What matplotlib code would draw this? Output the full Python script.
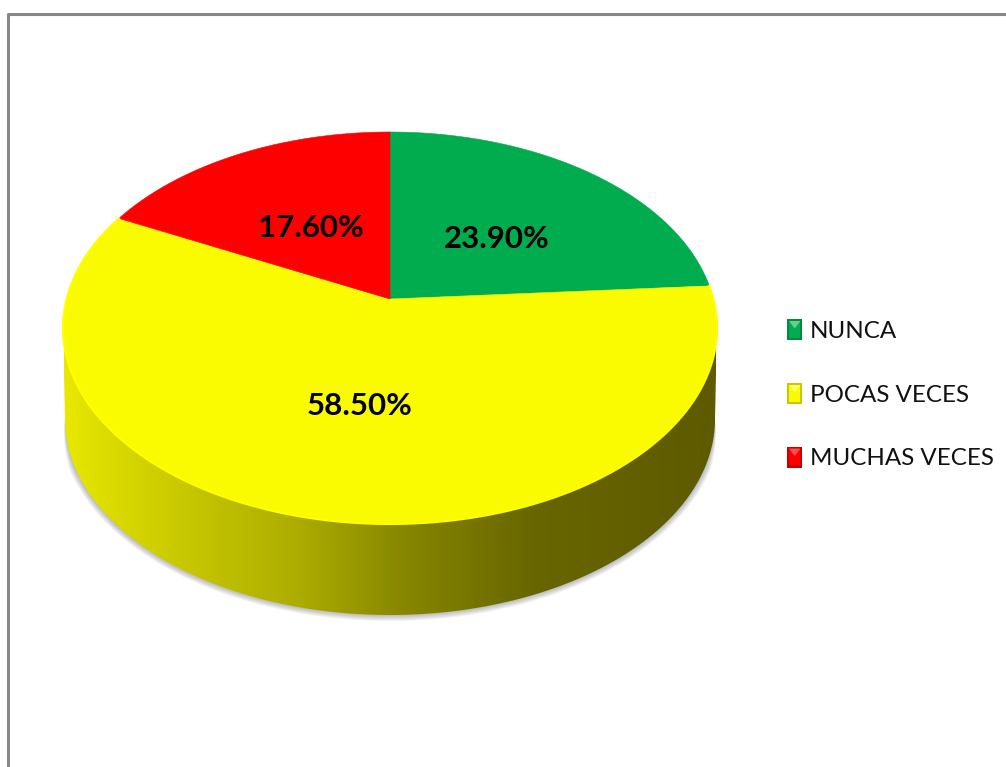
# -*- coding: UTF-8 -*-
import matplotlib
matplotlib.use('Agg')
import matplotlib.pyplot as plt
from matplotlib.colors import LinearSegmentedColormap
from matplotlib.patches import Polygon, Rectangle
import numpy as np

categories = ['NUNCA', 'POCAS VECES', 'MUCHAS VECES']
values = [23.9, 58.5, 17.6]
value_labels = ['23.90%', '58.50%', '17.60%']
colors = ['#00AC4E', '#FAFA00', '#FF0000']

plt.rcParams['font.family'] = ['Lato', 'DejaVu Sans']

# pie seen in perspective, all in pixels of the image
cx, cy = 390, 299
sx, sy, k = 323.4, 191.7, 0.148
depth = 91


def rim(a):
    w = 1 + k * np.cos(a)
    return cx + sx * np.sin(a) / w, cy - sy * np.cos(a) / w


def lower_edge(t, grow=0.0):
    return (390 + (325 + grow) * np.cos(t),
            328 + depth + (196 + grow) * np.sin(t))


fig = plt.figure(figsize=(10.06, 7.67), dpi=100)
ax = fig.add_axes([0, 0, 1, 1])
ax.set_xlim(0, 1006)
ax.set_ylim(767, 0)
ax.axis('off')

# frame
ax.plot([8.5, 8.5, 1006], [767, 13.5, 13.5], color='#888888', lw=2.2, solid_capstyle='butt')

t = np.linspace(np.pi, 0, 361)

# soft shadow of the side, fades out towards the top of the side
for g in range(1, 7):
    xs, ys = lower_edge(t, grow=g * np.clip(np.sin(t) * 4, 0, 1))
    ax.add_patch(Polygon(np.c_[xs, ys], closed=True, fc='#555555', ec='none',
                         alpha=0.07, zorder=1))

# side with gradient
xb, yb = lower_edge(np.linspace(0, np.pi, 361))
side_pts = np.r_[np.c_[xb, yb], [[63, 328]], [[390, 132]], [[717, 328]]]
side = Polygon(side_pts, closed=True, fc='none', ec='none', zorder=2)
ax.add_patch(side)
stops = [(0.0, (232/255, 232/255, 0)), (0.13, (208/255, 208/255, 0)),
         (0.36, (172/255, 172/255, 0)), (0.52, (135/255, 135/255, 0)),
         (0.72, (104/255, 102/255, 0)), (1.0, (94/255, 90/255, 0))]
cmap = LinearSegmentedColormap.from_list('side', stops)
grad = ax.imshow(np.linspace(0, 1, 256)[None, :], extent=(64, 716, 615, 132), cmap=cmap,
                 aspect='auto', zorder=2, interpolation='bilinear')
grad.set_clip_path(side)
ax.set_xlim(0, 1006)
ax.set_ylim(767, 0)

# top face, clockwise from twelve o'clock
start = 0.0
for val, col in zip(values, colors):
    stop = start + val / sum(values) * 2 * np.pi
    a = np.linspace(start, stop, 300)
    x, y = rim(a)
    ax.add_patch(Polygon(np.r_[[[cx, cy]], np.c_[x, y]], closed=True, fc=col, ec=col, lw=0.4, zorder=3))
    start = stop

# lighter bevel on the yellow edge
a0 = values[0] / sum(values) * 2 * np.pi
a1 = (values[0] + values[1]) / sum(values) * 2 * np.pi
x, y = rim(np.linspace(a0, a1, 400))
ax.plot(x, y, color='#FFFF00', lw=1.5, zorder=4)

# value labels
label_xy = [(497, 239), (360, 406), (311, 228)]
for s, (x, y) in zip(value_labels, label_xy):
    ax.text(x, y, s, fontsize=22.5, fontweight='bold', color='black', ha='center', va='center', zorder=5)

# legend
legend_dark = ['#008A3E', '#C8C800', '#C40000']
legend_light = ['#5FD08F', '#FFFF60', '#FF5050']
legend_y = [329.5, 393.5, 457]
for name, col, dk, lt, y in zip(categories, colors, legend_dark, legend_light, legend_y):
    ax.add_patch(Rectangle((787, y - 10.5), 15.5, 21, fc=dk, ec='none', zorder=5))
    ax.add_patch(Polygon([(789, y - 8.5), (800.5, y - 8.5), (800.5, y + 8), (789, y + 8)],
                         closed=True, fc=col, ec='none', zorder=6))
    ax.add_patch(Polygon([(789, y - 8.5), (800.5, y - 8.5), (794.7, y - 1)],
                         closed=True, fc=lt, ec='none', zorder=7))
    ax.text(810, y + 1.5, name, fontsize=17.4, color='#111111', ha='left', va='center', zorder=5)

fig.savefig('out.png', dpi=100, facecolor='white')
